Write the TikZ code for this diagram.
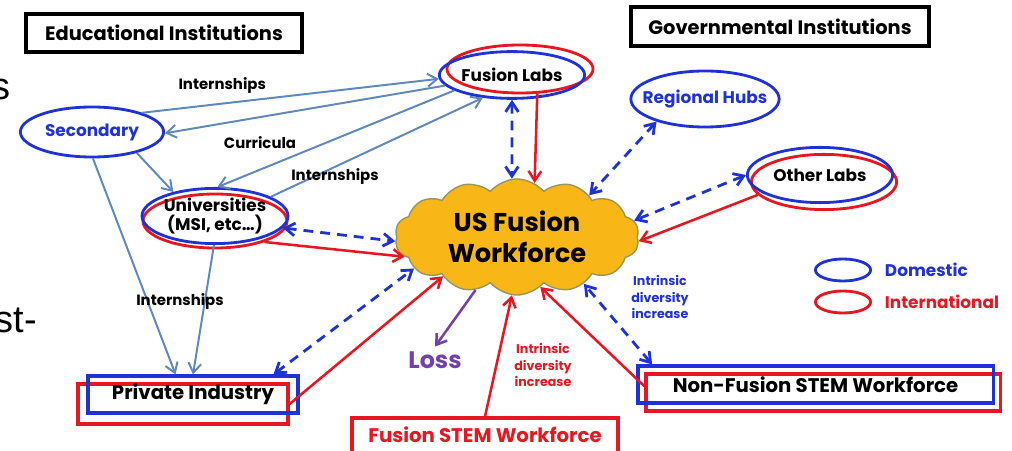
\documentclass[tikz,border=0pt]{standalone}
\usepackage{fontspec}
\setmainfont{Poppins}
\newfontfamily\slidefont{Liberation Sans}
\usetikzlibrary{positioning}
\usetikzlibrary{shapes.symbols,shapes.geometric}
\usetikzlibrary{arrows.meta}

\definecolor{domblue}{RGB}{30,50,215}
\definecolor{intred}{RGB}{232,22,32}
\definecolor{linkblue}{RGB}{96,136,192}
\definecolor{losspurple}{RGB}{115,65,170}
\definecolor{cloudfill}{RGB}{248,183,22}
\definecolor{cloudedge}{RGB}{150,150,95}

\tikzset{
  barb/.tip={Straight Barb[length=2.4mm,width=3.2mm]},
  domell/.style={ellipse,draw=domblue,line width=2pt,inner sep=0pt},
  intell/.style={ellipse,draw=intred,line width=2pt,inner sep=0pt},
  dombox/.style={rectangle,draw=domblue,line width=2.2pt,inner sep=0pt},
  intbox/.style={rectangle,draw=intred,line width=2.2pt,inner sep=0pt},
  headbox/.style={rectangle,draw=black,line width=2.5pt,inner sep=0pt,
    font=\fontsize{13.8}{15}\selectfont\bfseries},
  ellfont/.style={font=\fontsize{12}{13.5}\selectfont\bfseries},
  boxfont/.style={font=\fontsize{14}{16}\selectfont\bfseries},
  lbl/.style={font=\fontsize{10.6}{12}\selectfont\bfseries},
  small/.style={font=\fontsize{9}{12}\selectfont\bfseries,align=center},
  frag/.style={anchor=east,font=\slidefont\fontsize{27}{30}\selectfont},
  link/.style={draw=linkblue,line width=1.4pt,-barb},
  feed/.style={draw=intred,line width=1.8pt,-barb},
  share/.style={draw=domblue,line width=2pt,dash pattern=on 7pt off 5pt,barb-barb}
}

\begin{document}
\begin{tikzpicture}[x=0.025cm,y=-0.025cm]
\useasboundingbox (0,0) rectangle (1012,451);

\node[headbox,minimum width=6.9cm,minimum height=0.95cm] (eduhead) at (164,33) {Educational Institutions};
\node[headbox,minimum width=7.45cm,minimum height=0.975cm] (govhead) at (780,26.5) {Governmental Institutions};

\node[frag] (frag1) at (15,90) {s};
\node[frag] (frag2) at (42,320) {ost-};

\node[intell,minimum width=3.65cm,minimum height=1.2cm] (fuslabsint) at (520,69) {};
\node[domell,minimum width=3.63cm,minimum height=1.17cm,ellfont] (fuslabs) at (512,75) {Fusion Labs};
\node[domell,minimum width=3.58cm,minimum height=1.25cm,ellfont,text=domblue] (secondary) at (92,132) {Secondary};
\node[intell,minimum width=3.6cm,minimum height=1.35cm] (univint) at (215,221) {};
\node[domell,minimum width=3.65cm,minimum height=1.38cm,ellfont,align=center,inner xsep=-3pt,inner ysep=-2pt] (univ) at (215,216) {Universities\\(MSI, etc\dots)};
\node[domell,minimum width=3.7cm,minimum height=1.4cm,ellfont,text=domblue,inner xsep=-7pt] (reghubs) at (705,99) {Regional Hubs};
\node[intell,minimum width=3.63cm,minimum height=1.38cm] (othlabsint) at (824,182) {};
\node[domell,minimum width=3.63cm,minimum height=1.38cm,ellfont] (othlabs) at (820,175) {Other Labs};

\node[cloud,cloud puffs=14,cloud puff arc=100,aspect=2.2,fill=cloudfill,draw=cloudedge,line width=1pt,
  minimum width=6.1cm,minimum height=2.9cm,inner sep=0pt,align=center,
  font=\fontsize{18.3}{22}\selectfont\bfseries] (workforce) at (517,237) {US Fusion\\Workforce};

\node[intbox,minimum width=5.25cm,minimum height=1cm] (privint) at (183,404) {};
\node[dombox,minimum width=5.25cm,minimum height=0.925cm,boxfont] (privind) at (193,394.5) {Private Industry};
\node[intbox,minimum width=8.85cm,minimum height=0.925cm] (nonfusint) at (823,392.5) {};
\node[dombox,minimum width=8.875cm,minimum height=0.925cm,boxfont] (nonfus) at (815.5,384.5) {Non-Fusion STEM Workforce};
\node[intbox,minimum width=6.65cm,minimum height=1cm,boxfont,text=intred,text depth=5pt] (fusstem) at (485,438) {Fusion STEM Workforce};

\node[font=\fontsize{17}{20}\selectfont\bfseries,text=losspurple] (loss) at (435,360) {Loss};

\node[domell,minimum width=1.38cm,minimum height=0.55cm] (legdom) at (843,270) {};
\node[intell,minimum width=1.38cm,minimum height=0.55cm] (legint) at (843,302) {};
\node[ellfont,text=domblue,right=0.2cm of legdom] (legdomtxt) {Domestic};
\node[ellfont,text=intred,right=0.2cm of legint] (leginttxt) {International};

\draw[link] (secondary.21) -- (fuslabs.183) node[lbl,text=black,pos=0.27,above=3pt] (intern1) {Internships};
\draw[link] (fuslabs.189) -- (secondary.-1);
\draw[link] (fuslabs.195) -- (univ.85);
\draw[link] (univ.19) -- (fuslabs.218);
\draw[link] (secondary.-25) -- (univ.150);
\draw[link] (secondary.-88) -- (privind.131);
\draw[link] (univ.-92) -- (privind.north);
\node[lbl] (curric) at (260,143) {Curricula};
\node[lbl] (intern2) at (335,177) {Internships};
\node[lbl] (intern3) at (180,302) {Internships};

\draw[share] (fuslabs.south) -- (workforce.95);
\draw[share] (reghubs.205) -- (workforce.30);
\draw[share] (othlabs.west) -- (workforce.8);
\draw[share] (univ.-10) -- (workforce.182);
\draw[share] (privind.14) -- (workforce.197);
\draw[share] (nonfus.173) -- (workforce.-35);

\draw[feed] (fuslabsint.-55) -- (workforce.72);
\draw[feed] (othlabsint.191) -- (workforce.-2);
\draw[feed] (univint.-23) -- (workforce.190);
\draw[feed] (privint.east) -- (workforce.208);
\draw[feed] (fusstem.north) -- (workforce.265);
\draw[feed] (nonfusint.178) -- (workforce.-65);

\draw[draw=losspurple,line width=1.8pt,-barb] (workforce.232) -- (loss.north);

\node[small,text=intred] (divred) at (543,365) {Intrinsic\\diversity\\increase};
\node[small,text=domblue] (divblue) at (660,297) {Intrinsic\\diversity\\increase};
\end{tikzpicture}
\end{document}
